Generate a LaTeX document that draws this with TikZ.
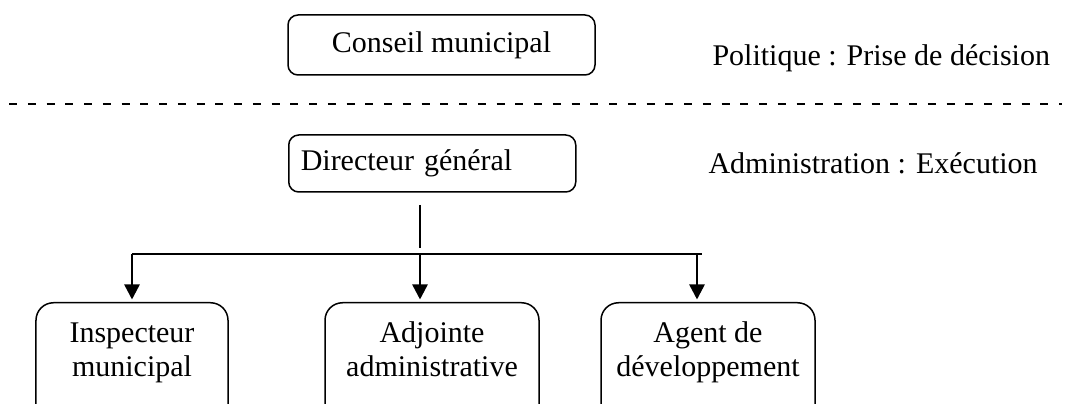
\documentclass[tikz,border=0pt]{standalone}
\usepackage{fontspec}
\setmainfont{Liberation Serif}
\usetikzlibrary{arrows.meta}

\tikzset{
    box/.style={draw, line width=0.6pt, rounded corners=4pt, inner sep=0pt},
    unitbox/.style={draw, line width=0.6pt, rounded corners=7pt, inner xsep=0pt, inner ysep=0pt,
        align=center, anchor=north, text height=29.6pt, text depth=21.4pt},
    line/.style={line width=1pt},
    arrow/.style={line width=1pt, -{Triangle[width=6pt,length=6pt]}, shorten >=1pt}
}

\begin{document}
\begin{tikzpicture}[x=0.4pt,y=-0.4pt]

                \useasboundingbox (0,0) rectangle (1071,404);
                \clip (0,0) rectangle (1071,404);
                \fontsize{12}{13.6}\selectfont

                \def \bary {254} % height of the distribution bar
                \def \boxtop {302}

                % political level
                \node[box, minimum width=122.8pt, minimum height=24pt] at (441.5,45) (CM) {Conseil municipal};
                \node[anchor=base west, inner sep=0pt] at (712,66) (pol) {Politique : Prise de décision};

                \coordinate (dashL) at (9,104);
                \coordinate (dashR) at (1062,104);
                \draw[line width=1.1pt, dash pattern=on 3.2pt off 4.3pt] (dashL) -- (dashR);

                % administrative level
                \node[box, anchor=west, text width=105.2pt, inner xsep=4.8pt, minimum height=22.8pt, align=left] at (288,163.5) (DG) {Directeur général};
                \node[anchor=base west, inner sep=0pt] at (708,174) (adm) {Administration : Exécution};

                \foreach \nm/\xc/\w/\txt in {IM/132/76.8pt/{Inspecteur\\municipal},
                    AA/432/85.6pt/{Adjointe\\administrative}, AD/708/85.6pt/{Agent de\\développement}}
                {
                    \node[unitbox, minimum width=\w] at (\xc,\boxtop) (\nm) {\txt};
                }

                \coordinate (DGout) at (420,205);
                \coordinate (DGbar) at (420,248);
                \coordinate (barL) at (132,\bary);
                \coordinate (barR) at (702,\bary);
                \draw[line] (DGout) -- (DGbar);
                \draw[line] (barL) -- (barR);

                \foreach \nm/\xa in {IM/132, AA/420, AD/697}
                {
                    \coordinate (s\nm) at (\xa,\bary);
                    \draw[arrow] (s\nm) -- (s\nm |- \nm.north);
                }

            \end{tikzpicture}
\end{document}
